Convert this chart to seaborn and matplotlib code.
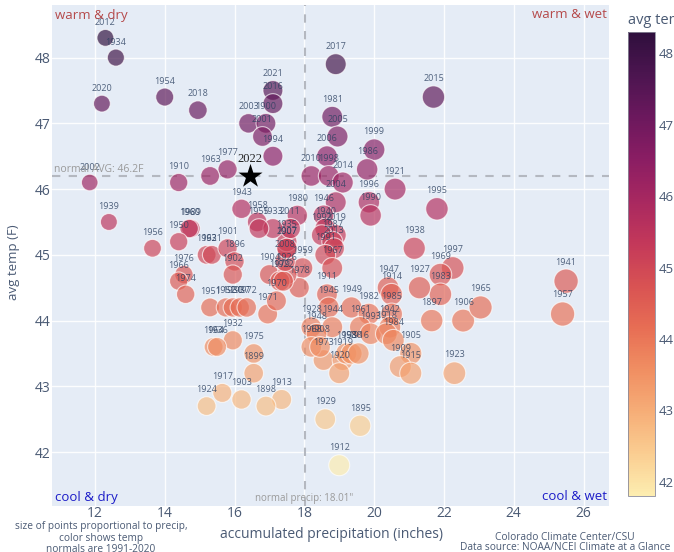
import numpy as np
import pandas as pd
import seaborn as sns
import matplotlib
matplotlib.use("Agg")
import matplotlib.pyplot as plt
from matplotlib.colors import LinearSegmentedColormap, Normalize
from matplotlib.cm import ScalarMappable

# values
years = [2012, 1934, 2020, 1954, 2018, 2003, 2021, 2016, 1900, 2001, 1994, 1977, 1963, 1910, 2002,
         2017, 2015, 1981, 2005, 1999, 2006, 1986, 2010, 1998, 2014, 1921, 2004, 1996, 1990, 1995,
         1946, 1980, 1940, 2019, 1992, 1987, 2013, 1991, 1967, 1959, 1978, 1911, 1945, 1949, 1938,
         1997, 1969, 1983, 1927, 1947, 1914, 1985, 1982, 1961, 1993, 1942, 1918, 1984, 1897, 1906,
         1965, 1941, 1957, 1923, 1905, 1909, 1915, 1973, 1919, 1920, 1953, 1988, 1916, 1928, 1944,
         1948, 1968, 1908, 1932, 1975, 1899, 1964, 1936, 1917, 1903, 1913, 1898, 1924, 1929, 1895,
         1912, 1939, 1989, 1960, 1950, 1956, 1962, 1931, 1901, 1896, 1902, 1976, 1966, 1974, 1951,
         1952, 1930, 1937, 1972, 1971, 1904, 1926, 1979, 1922, 1970, 2008, 2007, 1935, 2011, 1943,
         1958, 1933, 1955, 1907]
precip = [12.3, 12.6, 12.2, 14.0, 14.95, 16.4, 17.1, 17.1, 16.9, 16.8, 17.1, 15.8, 15.3, 14.4, 11.85,
          18.9, 21.7, 18.8, 18.95, 20.0, 18.65, 19.8, 18.2, 18.7, 19.1, 20.6, 18.9, 19.85, 19.9, 21.8,
          18.55, 17.8, 18.6, 18.9, 18.5, 18.8, 18.85, 18.6, 18.8, 17.95, 17.85, 18.65, 18.7, 19.35, 21.15,
          22.25, 21.9, 21.9, 21.3, 20.4, 20.5, 20.5, 19.85, 19.6, 19.9, 20.45, 20.35, 20.55, 21.65, 22.55,
          23.05, 25.5, 25.4, 22.3, 21.05, 20.75, 21.05, 18.55, 19.1, 19.0, 19.2, 19.35, 19.55, 18.2, 18.8,
          18.35, 18.2, 18.45, 15.95, 16.55, 16.55, 15.4, 15.5, 15.65, 16.2, 17.35, 16.9, 15.2, 18.6, 19.6,
          19.0, 12.4, 14.75, 14.7, 14.4, 13.65, 15.2, 15.35, 15.8, 16.0, 15.95, 14.55, 14.4, 14.6, 15.3,
          15.75, 15.95, 16.15, 16.35, 16.95, 17.0, 17.5, 17.3, 17.4, 17.2, 17.45, 17.5, 17.5, 17.6, 16.2,
          16.65, 17.1, 16.7, 17.5]
temp = [48.3, 48.0, 47.3, 47.4, 47.2, 47.0, 47.5, 47.3, 47.0, 46.8, 46.5, 46.3, 46.2, 46.1, 46.1,
        47.9, 47.4, 47.1, 46.8, 46.6, 46.5, 46.3, 46.2, 46.2, 46.1, 46.0, 45.8, 45.8, 45.6, 45.7,
        45.6, 45.6, 45.4, 45.3, 45.3, 45.2, 45.1, 45.0, 44.8, 44.8, 44.5, 44.4, 44.2, 44.2, 45.1,
        44.8, 44.7, 44.4, 44.5, 44.5, 44.4, 44.1, 44.1, 43.9, 43.8, 43.9, 43.8, 43.7, 44.0, 44.0,
        44.2, 44.6, 44.1, 43.2, 43.5, 43.3, 43.2, 43.4, 43.4, 43.2, 43.5, 43.5, 43.5, 43.9, 43.9,
        43.8, 43.6, 43.6, 43.7, 43.5, 43.2, 43.6, 43.6, 42.9, 42.8, 42.8, 42.7, 42.7, 42.5, 42.4,
        41.8, 45.5, 45.4, 45.4, 45.2, 45.1, 45.0, 45.0, 45.1, 44.9, 44.7, 44.7, 44.6, 44.4, 44.2,
        44.2, 44.2, 44.2, 44.2, 44.1, 44.7, 44.7, 44.6, 44.6, 44.3, 44.9, 45.1, 45.2, 45.4, 45.7,
        45.5, 45.4, 45.4, 45.1]

year_now = 2022
precip_now = 16.45
temp_now = 46.2
normal_precip = 18.01
normal_temp = 46.2

# plotly "matter" scale
matter = ["#fdedb0", "#facd91", "#f6ad77", "#f08e62", "#e76d54", "#d85253",
          "#c3385a", "#a82860", "#8a1d63", "#6b185d", "#4c1550", "#2f0f3d"]
cmap = LinearSegmentedColormap.from_list("matter", matter)
norm = Normalize(41.8, 48.3)
area = 12  # pt^2 per inch of precip

df = pd.DataFrame({"year": years, "precip": precip, "temp": temp})

sns.set_theme(style="white")
plt.rcParams["font.family"] = ["Open Sans", "DejaVu Sans"]

W, H = 674, 552
fig = plt.figure(figsize=(W / 100, H / 100), dpi=100)
ax = fig.add_axes([52 / W, 1 - 506 / H, 557 / W, 501 / H])
ax.set_facecolor("#E5ECF6")

sns.scatterplot(data=df, x="precip", y="temp", hue="temp", palette=cmap, hue_norm=norm,
                size="precip", sizes=(area * df.precip.min(), area * df.precip.max()),
                alpha=0.68, edgecolor="white", linewidth=0.8, legend=False, ax=ax, zorder=3)

# label sits just over the top of each marker, like plotly's "top center"
for y, p, t in zip(years, precip, temp):
    ax.annotate(str(y), (p, t), xytext=(0, np.sqrt(area * p) / 2 + 5), textcoords="offset points",
                ha="center", va="center", fontsize=6.5, color="#2a3f5f", alpha=0.8, zorder=4)

ax.axvline(normal_precip, color="#b4b8c0", ls=(0, (4, 4)), lw=1.5, zorder=2)
ax.axhline(normal_temp, color="#b4b8c0", ls=(0, (4, 4)), lw=1.5, zorder=2)

sns.scatterplot(x=[precip_now], y=[temp_now], marker="*", color="black", s=330,
                linewidth=0, legend=False, ax=ax, zorder=5)
ax.annotate(str(year_now), (precip_now, temp_now), xytext=(0, 12), textcoords="offset points",
            ha="center", va="center", fontsize=9, family="Liberation Serif", color="#222222", zorder=6)

ax.set_xlim(10.77, 26.73)
ax.set_ylim(41.18, 48.8)
ax.set_xticks(range(12, 27, 2))
ax.set_yticks(range(42, 49))
ax.grid(color="white", lw=1, alpha=0.9, zorder=1)
ax.set_axisbelow(True)
sns.despine(ax=ax, left=True, bottom=True, top=True, right=True)
ax.tick_params(axis="x", length=0, labelsize=10, labelcolor="#4a5a74", pad=0)
ax.tick_params(axis="y", length=0, labelsize=10, labelcolor="#4a5a74", pad=1)
ax.set_xlabel("")
ax.set_ylabel("")


def px_text(x, y, s, **kw):
    fig.text(x / W, 1 - y / H, s, va="center", **kw)


px_text(55, 15, "warm & dry", color="#b5494a", fontsize=9.5, ha="left")
px_text(607, 15, "warm & wet", color="#b5494a", fontsize=9.5, ha="right")
px_text(55, 497, "cool & dry", color="#1c1cc8", fontsize=9.5, ha="left")
px_text(607, 497, "cool & wet", color="#1c1cc8", fontsize=9.5, ha="right")
px_text(54, 170, "normal AVG: 46.2F", color="#9a9a9a", fontsize=7.5, ha="left")
px_text(304, 499, 'normal precip: 18.01"', color="#9a9a9a", fontsize=7, ha="center")

px_text(14, 262, "avg temp (F)", color="#4a5a74", fontsize=9.5, ha="center", rotation=90)
px_text(331, 535, "accumulated precipitation (inches)", color="#4a5a74", fontsize=10, ha="center")

px_text(101, 526, "size of points proportional to precip,", color="#4a5a74", fontsize=7.3, ha="center")
px_text(101, 538, "color shows temp", color="#4a5a74", fontsize=7.3, ha="center")
px_text(101, 550, "normals are 1991-2020", color="#4a5a74", fontsize=7.3, ha="center")
px_text(565, 537, "Colorado Climate Center/CSU", color="#4a5a74", fontsize=7.3, ha="center")
px_text(565, 548, "Data source: NOAA/NCEI Climate at a Glance", color="#4a5a74", fontsize=7.3, ha="center")

cax = fig.add_axes([628 / W, 1 - 496 / H, 27 / W, 464 / H])
cb = fig.colorbar(ScalarMappable(norm=norm, cmap=cmap), cax=cax)
cb.set_ticks(range(42, 49))
cb.outline.set_edgecolor("#8a8a9a")
cb.outline.set_linewidth(0.6)
cax.tick_params(length=0, labelsize=9.5, labelcolor="#4a5a74", pad=3)
px_text(628, 21, "avg temp", color="#4a5a74", fontsize=10.5, ha="left")

fig.savefig("out.png", dpi=100)
